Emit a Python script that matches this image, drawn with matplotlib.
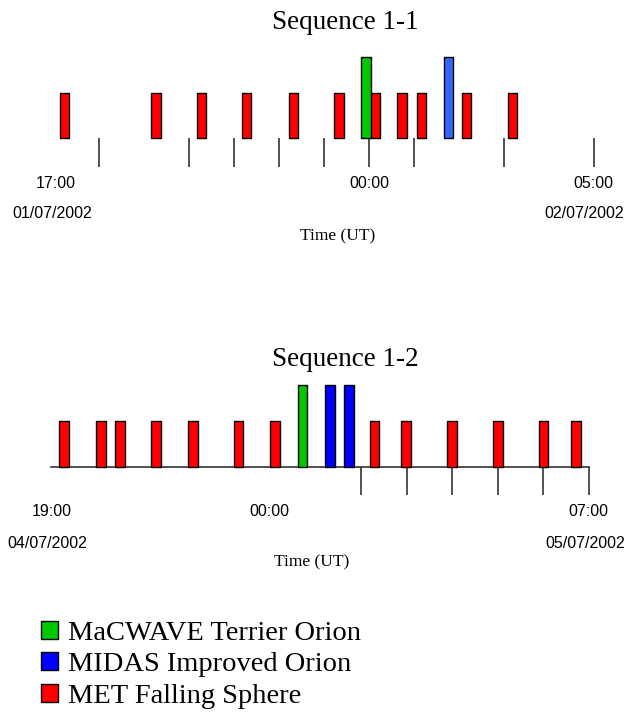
import matplotlib
matplotlib.use("Agg")
import matplotlib.pyplot as plt
from matplotlib.patches import Patch

# ---------------- data ----------------
series_names = ["MaCWAVE Terrier Orion", "MIDAS Improved Orion", "MET Falling Sphere"]

seq1_title = "Sequence 1-1"
seq1_met = ["17:14", "19:16", "20:17", "21:17", "22:19", "23:20",
            "00:08", "00:44", "01:10", "02:10", "03:11"]
seq1_macwave = ["23:56"]
seq1_midas = ["01:46"]
seq1_ticks = ["18:00", "20:00", "21:00", "22:00", "23:00", "00:00",
              "01:00", "03:00", "05:00"]
seq1_tick_labels = ["17:00", "00:00", "05:00"]
seq1_dates = ["01/07/2002", "02/07/2002"]

seq2_title = "Sequence 1-2"
seq2_met = ["19:29", "20:18", "20:43", "21:30", "22:19", "23:19", "00:07",
            "02:18", "02:59", "04:00", "05:00", "06:00", "06:43"]
seq2_macwave = ["00:43"]
seq2_midas = ["01:19", "01:44"]
seq2_ticks = ["02:00", "03:00", "04:00", "05:00", "06:00", "07:00"]
seq2_tick_labels = ["19:00", "00:00", "07:00"]
seq2_dates = ["04/07/2002", "05/07/2002"]

axis_title = "Time (UT)"

# ---------------- helpers ----------------
W, H = 626, 713


def to_hours(t):
    h, m = t.split(":")
    v = int(h) + int(m) / 60.0
    return v - 24 if v >= 12 else v


SERIF = ["Liberation Serif", "DejaVu Serif"]
SANS = ["Liberation Sans", "DejaVu Sans"]

fig = plt.figure(figsize=(W / 100, H / 100), dpi=100)
fig.patch.set_facecolor("white")


def px_axes(left, right, top, bottom, base):
    ax = fig.add_axes([left / W, 1 - bottom / H, (right - left) / W, (bottom - top) / H])
    # y data == pixels above baseline
    ax.set_ylim(-(bottom - base), base - top)
    ax.set_facecolor("none")
    for s in ["left", "right", "top"]:
        ax.spines[s].set_visible(False)
    ax.set_yticks([])
    return ax


def ftext(x, y, s, **kw):
    fig.text(x / W, 1 - y / H, s, **kw)


def panel(ax, met, macwave, midas, ticks, short_h, tall_h, blue, tick_len):
    bw = 0.21
    kw = dict(width=bw, edgecolor="black", linewidth=1.0, zorder=3)
    ax.bar([to_hours(t) for t in met], short_h, color="#ff0000", **kw)
    ax.bar([to_hours(t) for t in macwave], tall_h, color="#00c800", **kw)
    ax.bar([to_hours(t) for t in midas], tall_h, color=blue, **kw)
    ax.set_xticks([to_hours(t) for t in ticks])
    ax.tick_params(axis="x", direction="out", length=tick_len * 0.72, width=1.1,
                   color="#222222", labelbottom=False)
    ax.spines["bottom"].set_position(("data", 0))


# ---------------- Sequence 1-1 ----------------
ax1 = px_axes(54, 594, 40, 260, 138)
ax1.set_xlim(to_hours(seq1_tick_labels[0]), to_hours(seq1_tick_labels[-1]))
panel(ax1, seq1_met, seq1_macwave, seq1_midas, seq1_ticks, 45, 81, "#3366ff", 29)
ax1.spines["bottom"].set_color("none")
ftext(345, 29, seq1_title, ha="center", va="baseline", fontsize=19.5, family=SERIF)
ftext(55.5, 183, seq1_tick_labels[0], ha="center", va="center", fontsize=11.5, family=SANS)
ax1.text(to_hours(seq1_tick_labels[1]), -45, seq1_tick_labels[1], ha="center",
         va="center", fontsize=11.5, family=SANS)
ftext(593, 183, seq1_tick_labels[2], ha="center", va="center", fontsize=11.5, family=SANS)
ftext(52, 214, seq1_dates[0], ha="center", va="center", fontsize=11.5, family=SANS)
ftext(584, 214, seq1_dates[1], ha="center", va="center", fontsize=11.5, family=SANS)
ftext(338, 236, axis_title, ha="center", va="center", fontsize=12.5, family=SERIF)

# ---------------- Sequence 1-2 ----------------
ax2 = px_axes(51, 589, 370, 590, 467)
ax2.set_xlim(-4.8, to_hours(seq2_tick_labels[-1]))
panel(ax2, seq2_met, seq2_macwave, seq2_midas, seq2_ticks, 46, 82, "#0000ff", 28)
ax2.spines["bottom"].set_color("#222222")
ax2.spines["bottom"].set_linewidth(1.1)
ftext(345, 366, seq2_title, ha="center", va="baseline", fontsize=19.5, family=SERIF)
ftext(51.5, 511, seq2_tick_labels[0], ha="center", va="center", fontsize=11.5, family=SANS)
ax2.text(to_hours(seq2_tick_labels[1]), -44, seq2_tick_labels[1], ha="center",
         va="center", fontsize=11.5, family=SANS)
ftext(588, 511, seq2_tick_labels[2], ha="center", va="center", fontsize=11.5, family=SANS)
ftext(47, 543, seq2_dates[0], ha="center", va="center", fontsize=11.5, family=SANS)
ftext(585, 543, seq2_dates[1], ha="center", va="center", fontsize=11.5, family=SANS)
ftext(312, 562, axis_title, ha="center", va="center", fontsize=12.5, family=SERIF)

# ---------------- legend ----------------
handles = [Patch(facecolor=c, edgecolor="black", linewidth=1.0)
           for c in ["#00c800", "#0000ff", "#ff0000"]]
fig.legend(handles, series_names, loc="upper left",
           bbox_to_anchor=(41 / W, 1 - 621 / H),
           frameon=False, borderpad=0, borderaxespad=0,
           handlelength=0.6, handleheight=0.6, handletextpad=0.35,
           labelspacing=0.22, prop={"family": SERIF, "size": 20.5})

fig.savefig("out.png", dpi=100, facecolor="white")
